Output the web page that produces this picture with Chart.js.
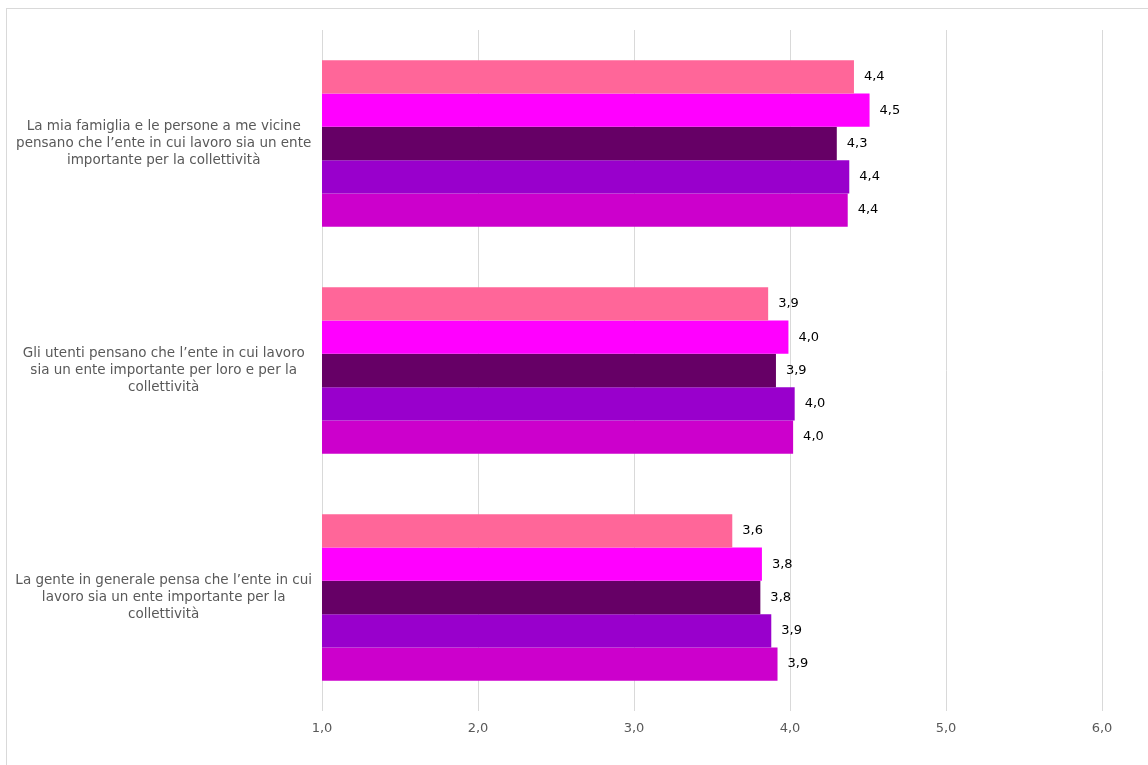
<!DOCTYPE html>
<html>
<head>
<meta charset="utf-8">
<script src="https://cdn.jsdelivr.net/npm/chart.js@4/dist/chart.umd.min.js"></script>
<style>
  html, body { margin: 0; padding: 0; background: #ffffff; }
  #wrap { position: relative; width: 1148px; height: 765px; overflow: hidden; }
  #frame { position: absolute; left: 6px; top: 8px; width: 1160px; height: 780px; border: 1px solid #d9d9d9; box-sizing: border-box; }
  #c { position: absolute; left: 0; top: 0; }
</style>
</head>
<body>
<div id="wrap">
  <div id="frame"></div>
  <canvas id="c" width="1148" height="765"></canvas>
</div>
<script>
const categories = [
  ["La mia famiglia e le persone a me vicine", "pensano che l\u2019ente in cui lavoro sia un ente", "importante per la collettivit\u00e0"],
  ["Gli utenti pensano che l\u2019ente in cui lavoro", "sia un ente importante per loro e per la", "collettivit\u00e0"],
  ["La gente in generale pensa che l\u2019ente in cui", "lavoro sia un ente importante per la", "collettivit\u00e0"]
];
const seriesNames = ["Serie 1", "Serie 2", "Serie 3", "Serie 4", "Serie 5"];
const series1 = [4.41, 3.86, 3.63];
const series2 = [4.51, 3.99, 3.82];
const series3 = [4.30, 3.91, 3.81];
const series4 = [4.38, 4.03, 3.88];
const series5 = [4.37, 4.02, 3.92];
const seriesColors = ["#FF6699", "#FF00FF", "#660066", "#9900CC", "#CC00CC"];
const xTicks = [1, 2, 3, 4, 5, 6];

const fmt = v => v.toFixed(1).replace('.', ',');
const FONT = "'DejaVu Sans', Verdana, sans-serif";

const valueLabels = {
  id: 'valueLabels',
  afterDatasetsDraw(chart) {
    const ctx = chart.ctx;
    ctx.save();
    ctx.font = "13px " + FONT;
    ctx.fillStyle = "#000000";
    ctx.textAlign = "left";
    ctx.textBaseline = "middle";
    chart.data.datasets.forEach((ds, i) => {
      const meta = chart.getDatasetMeta(i);
      meta.data.forEach((bar, j) => {
        ctx.fillText(fmt(ds.data[j]), bar.x + 10, bar.y);
      });
    });
    ctx.restore();
  }
};

const allSeries = [series1, series2, series3, series4, series5];

new Chart(document.getElementById('c'), {
  type: 'bar',
  data: {
    labels: categories,
    datasets: allSeries.map((s, i) => ({
      label: seriesNames[i],
      data: s,
      backgroundColor: seriesColors[i],
      borderWidth: 0,
      barPercentage: 1.0,
      categoryPercentage: 0.733
    }))
  },
  options: {
    indexAxis: 'y',
    responsive: false,
    animation: false,
    devicePixelRatio: 1,
    layout: { padding: { top: 30, right: 46, bottom: 14, left: 0 } },
    plugins: {
      legend: { display: false },
      title: { display: false },
      tooltip: { enabled: false }
    },
    scales: {
      x: {
        min: 1, max: 6,
        afterBuildTicks(scale) { scale.ticks = xTicks.map(v => ({ value: v })); },
        afterFit(scale) { scale.height = 40; scale.paddingLeft = 0; scale.paddingRight = 0; },
        grid: { color: '#d9d9d9', lineWidth: 1, drawTicks: false },
        border: { display: false },
        ticks: {
          padding: 10,
          color: '#595959',
          font: { family: FONT, size: 13 },
          callback: v => fmt(v)
        }
      },
      y: {
        afterFit(scale) { scale.width = 322; scale.paddingTop = 0; scale.paddingBottom = 0; },
        grid: { display: false, drawTicks: false },
        border: { display: false },
        ticks: {
          crossAlign: 'center',
          padding: 10,
          color: '#595959',
          font: { family: FONT, size: 13.5, lineHeight: 1.26 }
        }
      }
    }
  },
  plugins: [valueLabels]
});
</script>
</body>
</html>
